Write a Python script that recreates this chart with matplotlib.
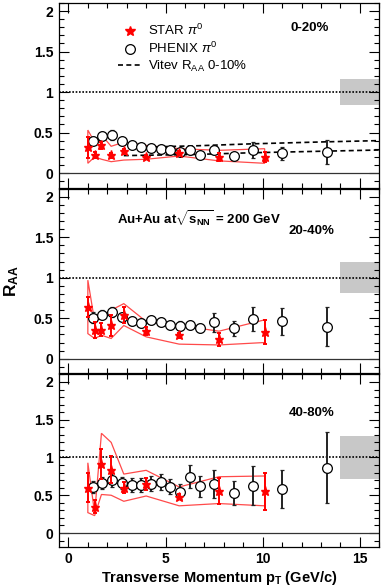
import matplotlib
matplotlib.use("Agg")
import matplotlib.pyplot as plt
from matplotlib.lines import Line2D
from matplotlib.ticker import MultipleLocator

plt.rcParams['font.family'] = ['Liberation Sans', 'DejaVu Sans']
plt.rcParams['mathtext.fontset'] = 'custom'
plt.rcParams['mathtext.rm'] = 'Liberation Sans'
plt.rcParams['mathtext.it'] = 'Liberation Sans:italic'
plt.rcParams['mathtext.bf'] = 'Liberation Sans:bold'

# PHENIX pi0 points
phenix_pt = [1.25, 1.75, 2.25, 2.75, 3.25, 3.75, 4.25, 4.75, 5.25, 5.75, 6.25,
             6.75, 7.5, 8.5, 9.5, 11.0, 13.3]
phenix_020 = [0.40, 0.46, 0.465, 0.40, 0.34, 0.32, 0.305, 0.30, 0.29, 0.26, 0.29,
              0.22, 0.29, 0.21, 0.285, 0.245, 0.26]
phenix_020_err = [0.04, 0.05, 0.06, 0.03, 0.03, 0.02, 0.02, 0.02, 0.02, 0.02, 0.03,
                  0.02, 0.05, 0.03, 0.10, 0.08, 0.15]
phenix_2040 = [0.505, 0.545, 0.58, 0.52, 0.47, 0.44, 0.48, 0.45, 0.42, 0.41, 0.415,
               0.38, 0.45, 0.375, 0.49, 0.46, 0.395]
phenix_2040_err = [0.07, 0.06, 0.06, 0.05, 0.05, 0.05, 0.05, 0.05, 0.05, 0.05, 0.05,
                   0.05, 0.12, 0.09, 0.15, 0.165, 0.24]
phenix_4080 = [0.61, 0.665, 0.70, 0.665, 0.635, 0.635, 0.65, 0.675, 0.615, 0.545, 0.745,
               0.62, 0.65, 0.525, 0.625, 0.58, 0.865]
phenix_4080_err = [0.08, 0.08, 0.09, 0.08, 0.09, 0.09, 0.10, 0.10, 0.10, 0.10, 0.15,
                   0.14, 0.19, 0.16, 0.26, 0.25, 0.47]

# STAR pi0 points and systematic bands
star_pt = [1.0, 1.35, 1.7, 2.2, 2.85, 4.0, 5.7, 7.75, 10.1]
star_020 = [0.32, 0.22, 0.34, 0.22, 0.27, 0.20, 0.25, 0.20, 0.20]
star_020_err = [0.13, 0.04, 0.04, 0.03, 0.03, 0.02, 0.02, 0.05, 0.06]
band_020_hi = [0.53, 0.38, 0.47, 0.33, 0.38, 0.34, 0.30, 0.28, 0.30]
band_020_lo = [0.12, 0.20, 0.17, 0.14, 0.16, 0.17, 0.21, 0.15, 0.12]

star_2040 = [0.64, 0.35, 0.36, 0.415, 0.54, 0.34, 0.29, 0.24, 0.33]
star_2040_err = [0.12, 0.10, 0.08, 0.13, 0.10, 0.05, 0.03, 0.08, 0.15]
band_2040_hi = [0.97, 0.46, 0.50, 0.60, 0.68, 0.46, 0.41, 0.34, 0.48]
band_2040_lo = [0.31, 0.25, 0.29, 0.25, 0.41, 0.27, 0.18, 0.17, 0.20]

star_4080 = [0.60, 0.35, 0.91, 0.84, 0.60, 0.65, 0.48, 0.56, 0.55]
star_4080_err = [0.19, 0.09, 0.20, 0.18, 0.07, 0.08, 0.03, 0.17, 0.24]
band_4080_hi = [0.93, 0.26, 1.32, 1.20, 0.78, 0.83, 0.61, 0.745, 0.755]
band_4080_lo = [0.27, 0.23, 0.51, 0.50, 0.42, 0.49, 0.36, 0.39, 0.36]

# Vitev 0-10% curves
vitev_hi_pt = [4.0, 6.7, 9.4, 13.25, 16.0]
vitev_hi = [0.32, 0.337, 0.36, 0.385, 0.40]
vitev_lo_pt = [2.85, 6.7, 9.4, 13.25, 16.0]
vitev_lo = [0.215, 0.23, 0.25, 0.27, 0.284]

# normalisation boxes
norm_x = [14.0, 16.0]
norm_lo = [0.84, 0.81, 0.72]
norm_hi = [1.16, 1.19, 1.28]
centrality = ['0-20%', '20-40%', '40-80%']
cent_pos = [(12.4, 1.79), (12.5, 1.58), (12.5, 1.59)]

phenix_y = [phenix_020, phenix_2040, phenix_4080]
phenix_e = [phenix_020_err, phenix_2040_err, phenix_4080_err]
star_y = [star_020, star_2040, star_4080]
star_e = [star_020_err, star_2040_err, star_4080_err]
band_hi = [band_020_hi, band_2040_hi, band_4080_hi]
band_lo = [band_020_lo, band_2040_lo, band_4080_lo]

W, H = 383, 588
fig = plt.figure(figsize=(W / 100, H / 100), dpi=100)
left = 58.7 / W
width = (379.3 - 58.7) / W
rects = [(2.9, 187.6), (188.6, 373.3), (374.4, 546.6)]

axes = []
for i, (top, bot) in enumerate(rects):
    ax = fig.add_axes([left, 1 - bot / H, width, (bot - top) / H])
    axes.append(ax)
    ax.set_xlim(-0.5, 16)
    ax.set_ylim(-0.18, 2.1)

    ax.fill_between(norm_x, norm_lo[i], norm_hi[i], color='#c8c8c8', lw=0, zorder=1)
    ax.axhline(1, color='black', ls=(0, (1, 1)), lw=1.2, zorder=2)
    ax.axhline(0, color='#333333', lw=0.9, zorder=2)

    # STAR systematic band outline
    ax.fill(star_pt + star_pt[::-1], band_hi[i] + band_lo[i][::-1], fill=False,
            edgecolor='#ff4a4a', lw=0.9, zorder=3)

    if i == 0:
        ax.plot(vitev_hi_pt, vitev_hi, color='black', ls=(0, (3, 2)), lw=1.2, zorder=3)
        ax.plot(vitev_lo_pt, vitev_lo, color='black', ls=(0, (3, 2)), lw=1.2, zorder=3)

    ax.errorbar(phenix_pt, phenix_y[i], yerr=phenix_e[i], fmt='o', ms=7,
                mfc='white', mec='black', mew=0.9, ecolor='#222222',
                elinewidth=1.4, capsize=1.5, capthick=1.4, zorder=4)
    ax.errorbar(star_pt, star_y[i], yerr=star_e[i], fmt='*', ms=6.5,
                color='red', ecolor='red', elinewidth=1.4, capsize=1.5,
                capthick=1.4, zorder=5)

    ax.text(cent_pos[i][0], cent_pos[i][1], centrality[i], fontsize=9.5,
            fontweight='bold', ha='center', va='center')

    ax.xaxis.set_major_locator(MultipleLocator(5))
    ax.xaxis.set_minor_locator(MultipleLocator(1))
    ax.yaxis.set_major_locator(MultipleLocator(0.5))
    ax.yaxis.set_minor_locator(MultipleLocator(0.1))
    ax.tick_params(which='both', direction='in', top=True, right=True,
                   labelsize=10, width=0.8)
    ax.tick_params(which='major', length=7, pad=4)
    ax.tick_params(which='minor', length=3.5)
    ax.set_yticks([0, 0.5, 1, 1.5, 2])
    ax.set_yticklabels(['0', '0.5', '1', '1.5', '2'], fontweight='bold')
    if i < 2:
        ax.tick_params(labelbottom=False)
    else:
        ax.set_xticks([0, 5, 10, 15])
        ax.set_xticklabels(['0', '5', '10', '15'], fontweight='bold')
    for s in ax.spines.values():
        s.set_linewidth(0.9)

handles = [
    Line2D([], [], ls='none', marker='*', ms=7, color='red'),
    Line2D([], [], ls='none', marker='o', ms=7, mfc='white', mec='black', mew=0.9),
    Line2D([], [], color='black', ls=(0, (3, 2)), lw=1.2),
]
labels = [r'STAR $\pi^0$', r'PHENIX $\pi^0$', r'Vitev R$_{\rm AA}$ 0-10%']
axes[0].legend(handles, labels, loc='upper left', bbox_to_anchor=(0.185, 0.89),
               frameon=False, fontsize=9.5, borderpad=0, borderaxespad=0,
               handlelength=1.8, handletextpad=0.45, labelspacing=0.2)

axes[1].text(2.5, 1.73, r'Au+Au at$\sqrt{\mathbf{s}_{\mathbf{NN}}}$ = 200 GeV',
             fontsize=9.5, fontweight='bold', va='center', ha='left')
axes[1].set_ylabel(r'$\mathbf{R_{AA}}$', fontsize=12.5, labelpad=9)
axes[2].set_xlabel(r'Transverse Momentum $\mathbf{p_T}$ (GeV/c)', fontsize=10.5,
                   fontweight='bold', labelpad=2)

fig.savefig('out.png', dpi=100)
